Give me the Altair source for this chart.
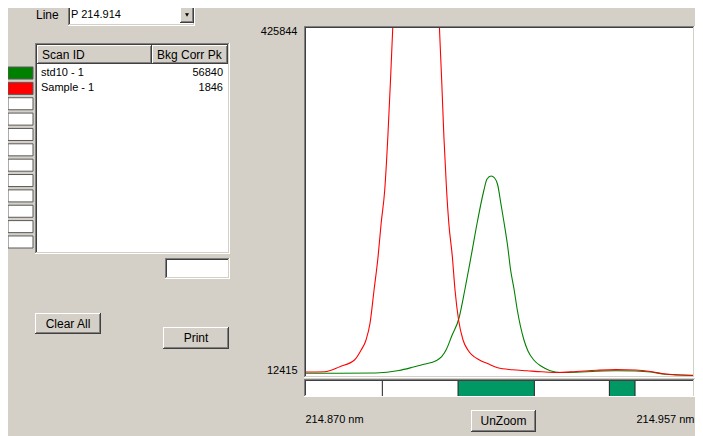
import altair as alt
import pandas as pd

FONT = "Liberation Sans"

# ---------------- data ----------------
line_name = "P 214.914"
scan_ids = ["std10 - 1", "Sample - 1"]
bkg_corr_pk = [56840, 1846]
series_colors = ["#008000", "#FF0000"]
n_slots = 12

x_min, x_max = 214.870, 214.957
y_min, y_max = 12415, 425844

# std10 - 1 (green)
std_nm = [214.8700, 214.8776, 214.8857, 214.8909, 214.8942, 214.8968, 214.8991,
          214.9005, 214.9016, 214.9027, 214.9044, 214.9057, 214.9071, 214.9086,
          214.9099, 214.9107, 214.9116, 214.9124, 214.9131, 214.9138, 214.9145,
          214.9153, 214.9160, 214.9168, 214.9175, 214.9190, 214.9199, 214.9212,
          214.9230, 214.9249, 214.9271, 214.9308, 214.9353, 214.9397, 214.9441,
          214.9475, 214.9508, 214.9541, 214.9570]
std_int = [15623, 15623, 15979, 18949, 23107, 26671, 30235,
           35343, 44491, 59103, 81319, 114583, 154143, 197743,
           231007, 246451, 250015, 247639, 239323, 217583, 195367,
           168043, 138343, 114583, 90823, 55183, 42115, 31423,
           23701, 18711, 16573, 16929, 18117, 18711, 18355,
           17167, 14435, 13603, 13009]

# Sample - 1 (red)
smp_nm = [214.8700, 214.8742, 214.8776, 214.8809, 214.8824, 214.8835, 214.8844,
          214.8853, 214.8862, 214.8869, 214.8877, 214.8884, 214.8890, 214.8895,
          214.8904, 214.8920, 214.8947, 214.8975, 214.8991, 214.9000, 214.9005,
          214.9010, 214.9016, 214.9021, 214.9029, 214.9035, 214.9043, 214.9053,
          214.9064, 214.9090, 214.9108, 214.9131, 214.9164, 214.9197, 214.9230,
          214.9264, 214.9308, 214.9353, 214.9397, 214.9441, 214.9475, 214.9508,
          214.9541, 214.9570]
smp_int = [17167, 17523, 23463, 31423, 43303, 55183, 75379,
           114583, 154143, 194179, 233383, 296703, 364063, 425844,
           560000, 780000, 900000, 780000, 560000, 425844, 364063,
           296703, 233383, 194179, 154143, 114583, 78943, 55183,
           43303, 31423, 27265, 22157, 19781, 18593, 17405,
           16573, 17761, 19187, 20018, 19543, 17761, 14791,
           13603, 13365]

# integration / background windows strip
seg_start = [214.870, 214.88716, 214.90418, 214.92134, 214.93820, 214.94397]
seg_end = [214.88716, 214.90418, 214.92134, 214.93820, 214.94397, 214.957]
seg_kind = ["off", "off", "on", "off", "on", "off"]

# ---------------- helpers for the UI decorations ----------------
ONE = pd.DataFrame({"k": [0]})
GRAY = "#D4D0C8"


def hline(x1, x2, y, color):
    return alt.Chart(ONE).mark_rule(color=color, strokeWidth=1).encode(
        x=alt.value(x1), x2=alt.value(x2), y=alt.value(y))


def vline(x, y1, y2, color):
    return alt.Chart(ONE).mark_rule(color=color, strokeWidth=1).encode(
        x=alt.value(x), y=alt.value(y1), y2=alt.value(y2))


def box(x1, y1, x2, y2, fill):
    return alt.Chart(ONE).mark_rect(fill=fill).encode(
        x=alt.value(x1), x2=alt.value(x2), y=alt.value(y1), y2=alt.value(y2))


def sunken(x1, y1, x2, y2, fill="#FFFFFF"):
    out = []
    if fill:
        out.append(box(x1, y1, x2, y2, fill))
    out += [hline(x1, x2, y1 + 0.5, "#808080"), vline(x1 + 0.5, y1, y2, "#808080"),
            hline(x1 + 1, x2 - 1, y1 + 1.5, "#404040"), vline(x1 + 1.5, y1 + 1, y2 - 1, "#404040"),
            hline(x1, x2, y2 - 0.5, "#FFFFFF"), vline(x2 - 0.5, y1, y2, "#FFFFFF"),
            hline(x1 + 1, x2 - 1, y2 - 1.5, GRAY), vline(x2 - 1.5, y1 + 1, y2 - 1, GRAY)]
    return out


def raised(x1, y1, x2, y2, fill=GRAY):
    return [box(x1, y1, x2, y2, fill),
            hline(x1, x2, y1 + 0.5, "#FFFFFF"), vline(x1 + 0.5, y1, y2, "#FFFFFF"),
            hline(x1, x2, y2 - 0.5, "#404040"), vline(x2 - 0.5, y1, y2, "#404040"),
            hline(x1 + 1, x2 - 1, y2 - 1.5, "#808080"), vline(x2 - 1.5, y1 + 1, y2 - 1, "#808080")]


def label(txt, x, y, size=12, align="left"):
    return alt.Chart(ONE).mark_text(text=txt, align=align, baseline="middle", fontSize=size,
                                    font=FONT, color="#000000").encode(
        x=alt.value(x), y=alt.value(y))


# ---------------- spectrum ----------------
W, H = 387, 348
color_scale = alt.Scale(domain=scan_ids + ["(empty)"], range=series_colors + ["#FFFFFF"])
x_scale = alt.Scale(domain=[x_min, x_max], nice=False, zero=False)
y_scale = alt.Scale(domain=[y_min, y_max], nice=False, zero=False)

spec_df = pd.concat([
    pd.DataFrame({"nm": std_nm, "intensity": std_int, "scan": scan_ids[0]}),
    pd.DataFrame({"nm": smp_nm, "intensity": smp_int, "scan": scan_ids[1]}),
])

x_axis = alt.Axis(values=[x_min, x_max], labelExpr="format(datum.value, '.3f') + ' nm'",
                  labelFlush=True, labelFlushOffset=1, ticks=False, domain=False, grid=False,
                  labelPadding=37, title=None, labelFontSize=11, labelColor="#000000",
                  labelFont=FONT, labelOverlap=False)
y_axis = alt.Axis(values=[y_min, y_max], format="d", labelFlush=True, labelFlushOffset=1,
                  labelOffset=-1.5, ticks=False, domain=False, grid=False, labelPadding=9,
                  title=None, labelFontSize=11, labelColor="#000000", labelFont=FONT)

lines = alt.Chart(spec_df).mark_line(clip=True, strokeWidth=1.1, interpolate="monotone").encode(
    x=alt.X("nm:Q", scale=x_scale, axis=x_axis),
    y=alt.Y("intensity:Q", scale=y_scale, axis=y_axis),
    color=alt.Color("scan:N", scale=color_scale, legend=None),
)

strip_df = pd.DataFrame({"start": seg_start, "end": seg_end, "kind": seg_kind})
strip = alt.Chart(strip_df).mark_rect().encode(
    x=alt.X("start:Q", scale=x_scale, axis=x_axis), x2="end:Q",
    y=alt.value(353), y2=alt.value(368),
    fill=alt.Fill("kind:N", scale=alt.Scale(domain=["off", "on"], range=["#FFFFFF", "#009966"]),
                  legend=None),
)
bounds = alt.Chart(strip_df).transform_filter(f"datum.start > {x_min}").mark_rule(
    color="#202020", strokeWidth=1).encode(
    x=alt.X("start:Q", scale=x_scale, axis=x_axis), y=alt.value(353), y2=alt.value(368))

spectrum = alt.layer(lines, strip, bounds)

# ---------------- scan table ----------------
slots = list(range(n_slots))
swatch_df = pd.DataFrame({"slot": slots,
                          "scan": scan_ids + ["(empty)"] * (n_slots - len(scan_ids))})
row_df = pd.DataFrame({"slot": slots[:len(scan_ids)], "scan": scan_ids, "pk": bkg_corr_pk})
slot_scale = alt.Scale(type="band", domain=slots, range=[39, 220], paddingInner=0.216,
                       paddingOuter=0)

swatches = alt.Chart(swatch_df).mark_rect(stroke="#5a5a5a", strokeWidth=1).encode(
    x=alt.value(-298), x2=alt.value(-273),
    y=alt.Y("slot:O", scale=slot_scale, axis=None),
    color=alt.Color("scan:N", scale=color_scale, legend=None),
)
names = alt.Chart(row_df).mark_text(align="left", baseline="middle", fontSize=11, font=FONT,
                                    color="#000000").encode(
    x=alt.value(-265), y=alt.Y("slot:O", scale=slot_scale, axis=None), text="scan:N")
values = alt.Chart(row_df).mark_text(align="right", baseline="middle", fontSize=11, font=FONT,
                                     color="#000000").encode(
    x=alt.value(-83), y=alt.Y("slot:O", scale=slot_scale, axis=None),
    text=alt.Text("pk:Q", format="d"))
table = alt.layer(swatches, names, values)

# ---------------- decorations ----------------
back = [box(0, 0, W, H, "#FFFFFF")]                   # white plot area
back += sunken(-2, -2, W + 2, H + 2, fill=None)       # plot frame
back += sunken(-2, 351, W + 2, 369, fill="#FFFFFF")   # window strip
back += sunken(-238, -24, -111, -2)                   # line selector
back += raised(-126, -21, -112, -5)
back += sunken(-271, 15, -76, 226)                    # table
back += raised(-269, 17, -154, 36)
back += raised(-154, 17, -78, 36)
back += sunken(-141, 230, -76, 251)                   # small text box
back += raised(-271, 285, -205, 306)                  # Clear All
back += raised(-143, 299, -77, 321)                   # Print
back += raised(165, 382, 230, 404)                    # UnZoom

arrow = alt.Chart(ONE).mark_point(shape="triangle-down", filled=True, size=16,
                                  color="#000000", opacity=1).encode(
    x=alt.value(-119), y=alt.value(-13))

front = [
    arrow,
    label("Line", -270, -13),
    label(line_name, -235, -13, size=11),
    label("Scan ID", -264, 27),
    label("Bkg Corr Pk", -149, 27),
    label("Clear All", -238, 295.5, align="center"),
    label("Print", -110, 310, align="center"),
    label("UnZoom", 197.5, 393, align="center"),
]

chart = alt.layer(*back, spectrum, table, *front).resolve_scale(y="independent").properties(
    width=W, height=H,
    autosize=alt.AutoSizeParams(type="none"),
    padding={"left": 298, "top": 20, "right": 2, "bottom": 60},
    background=GRAY,
).configure_view(stroke=None).configure(font=FONT)

chart.save("out.html", embed_options={"renderer": "svg", "actions": False})
